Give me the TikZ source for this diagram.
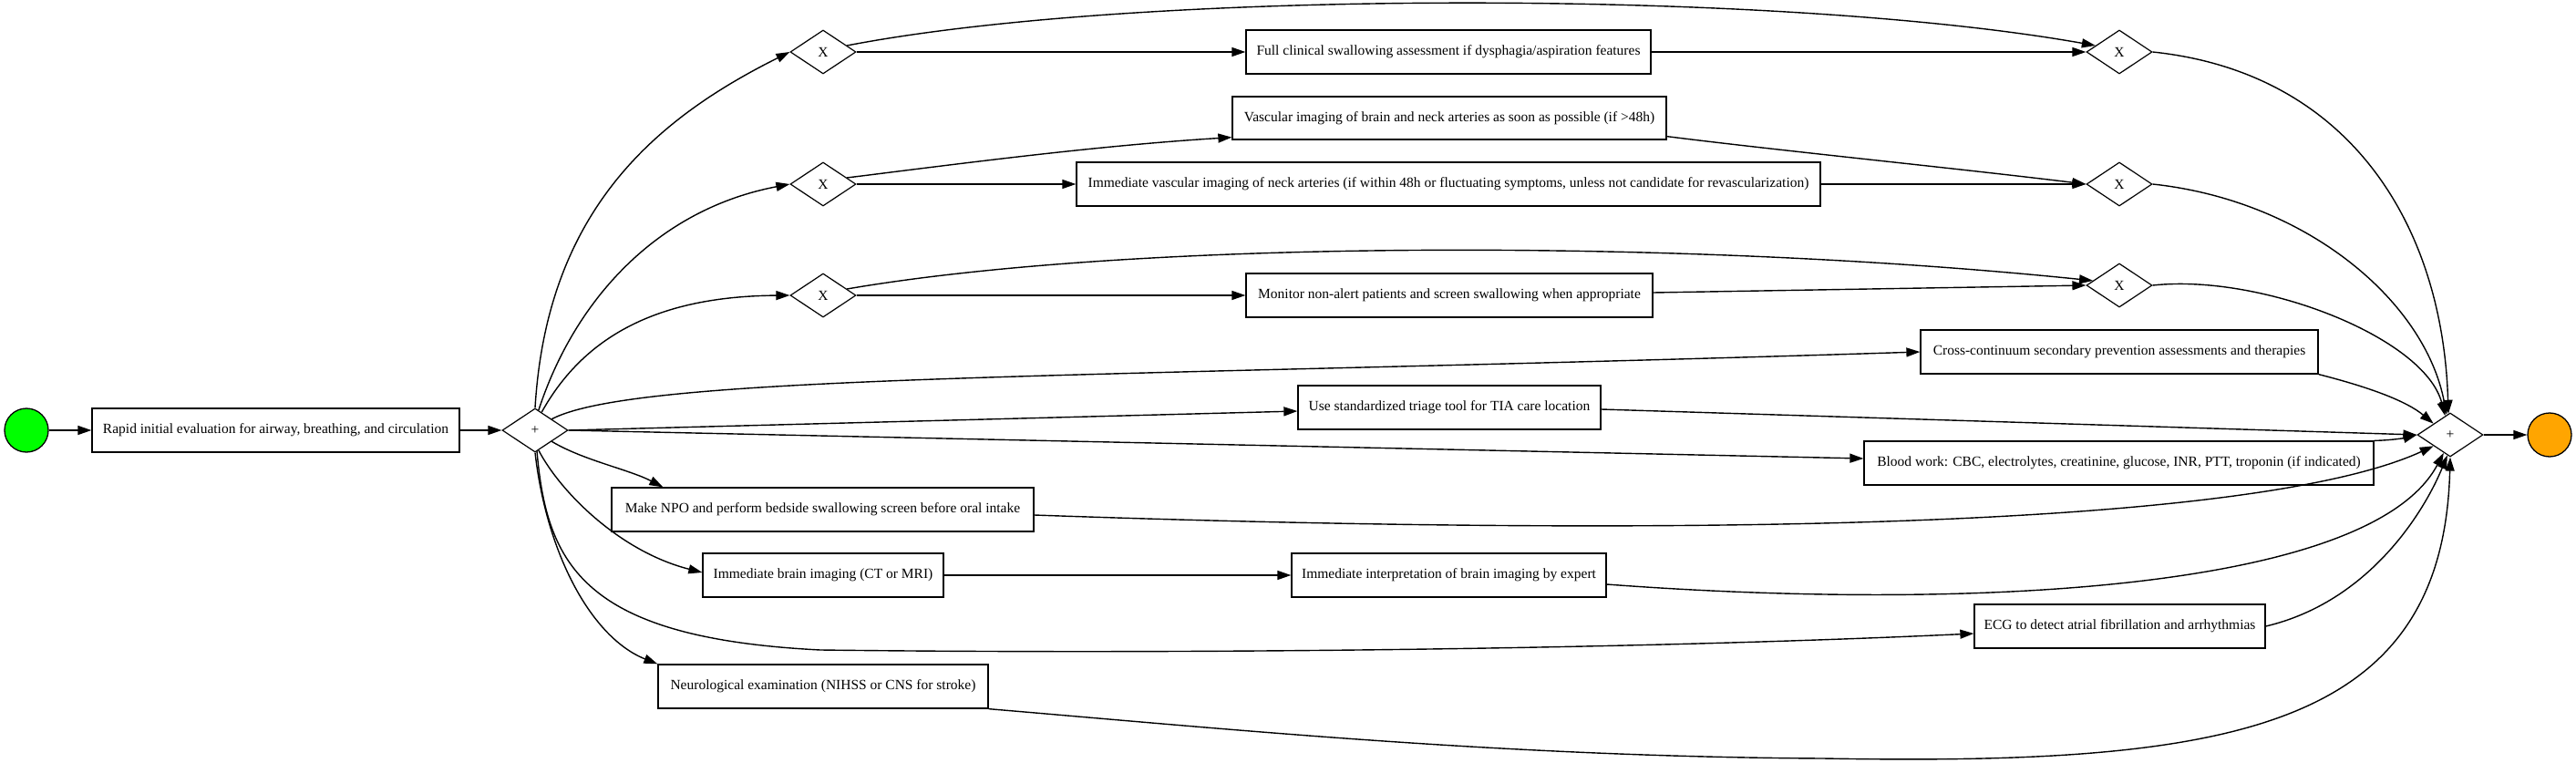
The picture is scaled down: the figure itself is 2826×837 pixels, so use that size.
\documentclass[tikz,border=0pt]{standalone}
\usepackage{fontspec}
\setmainfont{Liberation Serif}
\usetikzlibrary{arrows.meta,shapes.geometric,calc}
\definecolor{startgreen}{RGB}{0,255,0}
\definecolor{endorange}{RGB}{255,165,0}
\begin{document}
\begin{tikzpicture}[x=1pt,y=-1pt,
  every node/.style={font=\fontsize{15.5}{18}\selectfont},
  task/.style={draw, line width=1.3pt, minimum height=48pt, inner sep=0pt},
  gate/.style={draw, diamond, line width=1.2pt, minimum width=72pt, minimum height=48pt, inner sep=0pt},
  plusgate/.style={gate},
  event/.style={circle, draw, line width=1.3pt, minimum size=48pt, inner sep=0pt},
  flow/.style={line width=1.4pt, -{Triangle[length=15pt,width=10pt]}}
]
\useasboundingbox (0,0) rectangle (2826,837);

\node[event, fill=startgreen] (start) at (29,472) {};
\node[task, minimum width=403pt] (rapid) at (302.5,472) {Rapid initial evaluation for airway, breathing, and circulation};
\node[plusgate] (pg) at (587,472) {+};
\node[gate] (x1) at (903,57) {X};
\node[gate] (x2) at (903,202) {X};
\node[gate] (x3) at (903,324) {X};
\node[task, minimum width=444pt] (full) at (1589,57) {Full clinical swallowing assessment if dysphagia/aspiration features};
\node[task, minimum width=476pt, minimum height=47pt] (vbrain) at (1590,129.5) {Vascular imaging of brain and neck arteries as soon as possible (if >48h)};
\node[task, minimum width=816pt] (vneck) at (1589,202) {Immediate vascular imaging of neck arteries (if within 48h or fluctuating symptoms, unless not candidate for revascularization)};
\node[task, minimum width=446pt] (monitor) at (1590,324) {Monitor non-alert patients and screen swallowing when appropriate};
\node[task, minimum width=436pt] (cross) at (2325,386) {Cross-continuum secondary prevention assessments and therapies};
\node[task, minimum width=332pt] (triage) at (1590,447) {Use standardized triage tool for TIA care location};
\node[task, minimum width=559pt] (blood) at (2324.5,508) {Blood work: CBC, electrolytes, creatinine, glucose, INR, PTT, troponin (if indicated)};
\node[task, minimum width=463pt] (npo) at (902.5,559) {Make NPO and perform bedside swallowing screen before oral intake};
\node[task, minimum width=264pt] (brain) at (903,631) {Immediate brain imaging (CT or MRI)};
\node[task, minimum width=345pt] (interp) at (1589.5,631) {Immediate interpretation of brain imaging by expert};
\node[task, minimum width=319pt] (ecg) at (2325.5,687) {ECG to detect atrial fibrillation and arrhythmias};
\node[task, minimum width=362pt] (neuro) at (903,753) {Neurological examination (NIHSS or CNS for stroke)};
\node[gate] (xj1) at (2325,57) {X};
\node[gate] (xj2) at (2325,202) {X};
\node[gate] (xj3) at (2325,313) {X};
\node[plusgate] (pj) at (2688,477) {+};
\node[event, fill=endorange] (end) at (2797,477) {};

% main line
\draw[flow] (start) -- (rapid);
\draw[flow] (rapid) -- (pg);
% split
\draw[flow] (pg.north) .. controls (600,230) and (720,130) .. (x1.west);
\draw[flow] (pg.80) .. controls (630,330) and (720,230) .. (x2.west);
\draw[flow] (pg.70) .. controls (640,370) and (720,325) .. (x3.west);
\draw[flow] (pg.north east) .. controls (700,410) and (1200,415) .. (cross.west);
\draw[flow] (pg.east) -- ([yshift=-4pt]triage.west);
\draw[flow] (pg.east) -- ([yshift=5pt]blood.west);
\draw[flow] (pg.south east) .. controls (640,505) and (690,515) .. ([xshift=57pt]npo.north west);
\draw[flow] (pg.280) .. controls (615,540) and (680,605) .. ([yshift=3pt]brain.west);
\draw[flow] (pg.275) .. controls (600,620) and (640,700) .. (900,713) .. controls (1300,718) and (1800,712) .. ([yshift=-8pt]ecg.west);
\draw[flow] (pg.south) .. controls (600,610) and (650,700) .. (neuro.north west);
% exclusive branches
\draw[flow] (x1.east) -- (full.west);
\draw[flow] (x1.15) .. controls (1250,-12) and (1950,-12) .. (xj1.165);
\draw[flow] (full.east) -- (xj1.west);
\draw[flow] (x2.15) .. controls (1050,180) and (1200,160) .. ([yshift=3pt]vbrain.south west);
\draw[flow] (x2.east) -- (vneck.west);
\draw[flow] ([yshift=4pt]vbrain.south east) .. controls (1950,165) and (2150,185) .. (xj2.west);
\draw[flow] (vneck.east) -- (xj2.west);
\draw[flow] (x3.east) -- (monitor.west);
\draw[flow] (x3.15) .. controls (1250,262) and (1850,262) .. (xj3.170);
\draw[flow] ([yshift=3pt]monitor.east) -- (xj3.west);
\draw[flow] (brain.east) -- (interp.west);
% join
\draw[flow] (xj1.east) .. controls (2580,80) and (2680,250) .. (pj.95);
\draw[flow] (xj2.east) .. controls (2530,220) and (2660,330) .. (pj.100);
\draw[flow] (xj3.east) .. controls (2480,300) and (2660,370) .. (pj.105);
\draw[flow] (cross.south east) .. controls (2600,425) and (2640,440) .. (pj.north west);
\draw[flow] ([yshift=-2pt]triage.east) -- (pj.west);
\draw[flow] (blood.north east) .. controls (2625,483) and (2640,480) .. (pj.west);
\draw[flow] ([yshift=-6pt]npo.east) .. controls (1700,585) and (2450,590) .. (pj.south west);
\draw[flow] ([yshift=-10pt]interp.east) .. controls (2150,670) and (2600,650) .. (pj.250);
\draw[flow] (ecg.east) .. controls (2600,660) and (2660,560) .. (pj.262);
\draw[flow] (neuro.south east) .. controls (1350,800) and (1650,830) .. (2000,832) .. controls (2450,840) and (2680,800) .. (pj.south);
\draw[flow] (pj) -- (end);
\end{tikzpicture}
\end{document}
